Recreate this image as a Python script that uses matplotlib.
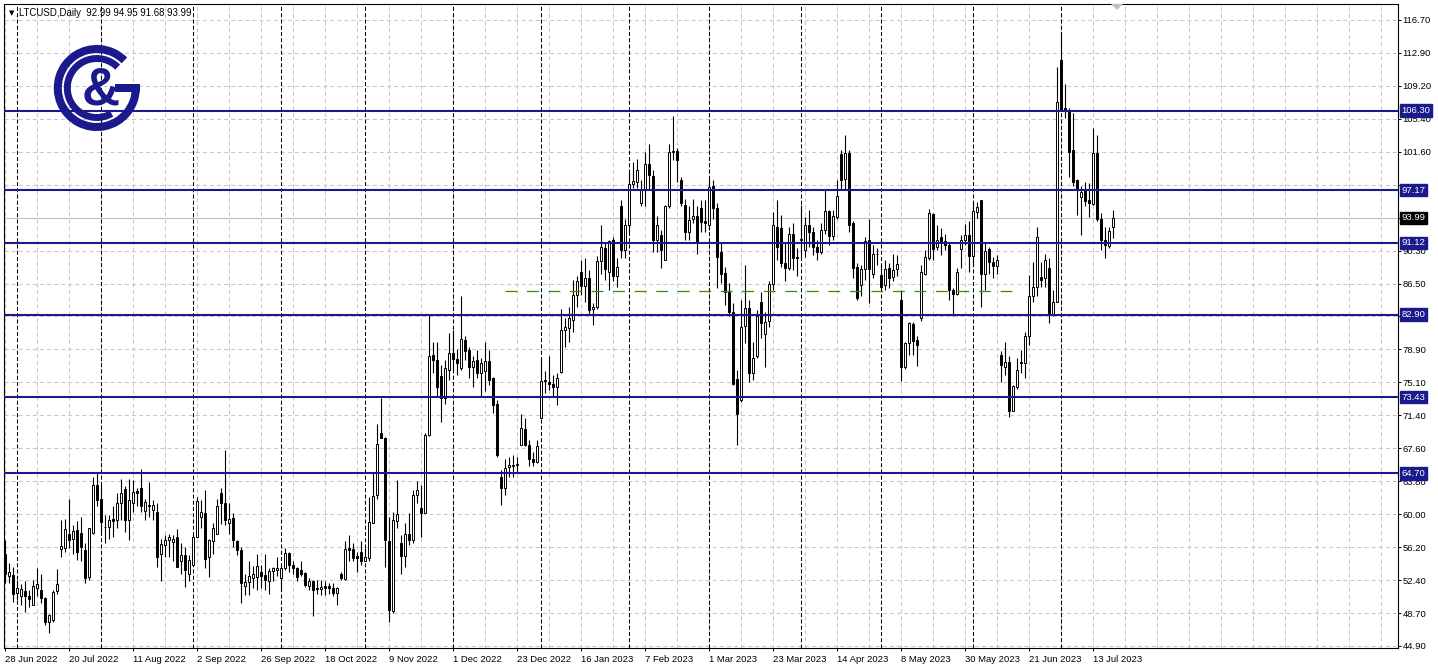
import numpy as np
import pandas as pd
import matplotlib
matplotlib.use('Agg')
import matplotlib.pyplot as plt
import matplotlib.transforms as mtransforms
from matplotlib.patches import Arc, Polygon, Rectangle

plt.rcParams['font.family'] = ['Liberation Sans', 'DejaVu Sans']
plt.rcParams['lines.scale_dashes'] = False

# daily LTCUSD bars (weekdays), first bar on 28 Jun 2022
symbol = 'LTCUSD,Daily'
start_date = '2022-06-28'

opens = [
    55.5, 52.9, 53.0, 51.0, 50.6, 51.2, 50.6, 49.6, 51.6, 51.3,
    50.4, 47.7, 47.9, 51.2, 56.0, 56.1, 57.8, 57.2, 58.2, 57.9,
    55.9, 52.8, 57.9, 63.4, 61.8, 58.6, 58.5, 59.5, 59.3, 61.3,
    62.9, 59.4, 61.3, 62.7, 63.0, 60.4, 61.1, 60.5, 60.3, 55.5,
    56.5, 57.1, 56.8, 57.4, 54.6, 55.3, 53.2, 54.2, 57.4, 59.7,
    60.2, 55.1, 56.9, 57.7, 62.5, 61.3, 59.0, 59.6, 56.9, 55.9,
    51.8, 52.2, 52.7, 52.8, 53.4, 53.0, 52.3, 53.5, 53.6, 52.7,
    53.8, 55.6, 54.2, 53.8, 53.6, 53.3, 51.8, 52.3, 51.6, 51.4,
    51.8, 51.8, 51.6, 51.0, 53.2, 52.6, 56.1, 56.0, 55.2, 55.7,
    54.7, 55.0, 59.0, 62.2, 69.3, 68.7, 56.9, 48.9, 59.2, 56.7,
    55.2, 57.7, 57.1, 62.2, 60.7, 60.2, 69.1, 78.3, 77.7, 75.9,
    73.3, 76.6, 78.5, 77.8, 76.8, 80.0, 78.9, 76.9, 77.7, 76.2,
    76.4, 77.6, 75.6, 72.7, 64.3, 63.0, 65.4, 65.5, 65.6, 68.0,
    69.8, 68.0, 66.4, 66.0, 71.1, 75.3, 75.2, 75.0, 74.6, 76.3,
    81.1, 81.4, 82.3, 85.2, 87.8, 86.2, 87.1, 83.5, 83.8, 89.0,
    90.5, 87.8, 91.5, 87.3, 95.3, 90.3, 93.2, 97.9, 98.1, 95.7,
    97.2, 100.2, 98.8, 91.5, 92.0, 89.2, 95.3, 101.6, 101.7, 98.3,
    95.5, 92.4, 93.9, 94.2, 95.1, 93.6, 93.2, 97.6, 95.1, 90.1,
    87.7, 85.5, 83.2, 75.5, 73.1, 81.6, 83.7, 76.2, 78.1, 84.3,
    80.7, 82.2, 86.4, 93.0, 92.8, 88.8, 88.3, 92.2, 89.5, 91.4,
    90.3, 93.2, 92.4, 90.7, 90.1, 92.6, 94.8, 91.9, 94.1, 101.3,
    98.4, 101.4, 93.4, 88.4, 86.3, 88.1, 91.5, 87.6, 89.8, 87.4,
    86.3, 88.2, 87.2, 88.1, 84.6, 76.9, 79.6, 81.8, 80.0, 82.5,
    87.6, 89.4, 94.4, 90.7, 91.8, 91.3, 90.9, 85.7, 85.3, 90.4,
    91.4, 92.0, 89.6, 94.7, 96.0, 87.6, 90.4, 88.9, 88.5, 78.3,
    76.9, 77.5, 71.9, 74.6, 77.5, 77.3, 80.4, 85.0, 86.1, 87.2,
    87.1, 88.2, 83.0, 84.4, 112.1, 106.6, 106.4, 101.8, 98.3, 96.4,
    97.2, 96.0, 95.6, 101.4, 93.9, 91.5, 90.8, 92.99,
]
highs = [
    57.0, 54.4, 54.0, 52.5, 52.0, 52.3, 51.3, 52.5, 53.9, 53.1,
    50.5, 48.6, 51.3, 53.7, 59.3, 59.5, 61.7, 58.8, 59.2, 59.7,
    56.7, 58.4, 64.3, 64.7, 63.5, 59.9, 59.9, 60.9, 62.4, 64.0,
    63.2, 64.0, 63.9, 63.0, 65.2, 61.7, 63.7, 61.6, 61.3, 57.2,
    57.6, 57.8, 57.6, 58.3, 56.7, 56.3, 55.3, 57.6, 62.0, 61.6,
    62.8, 57.2, 59.0, 61.8, 63.0, 67.4, 61.3, 60.1, 57.1, 56.3,
    53.2, 54.6, 54.1, 55.5, 54.2, 55.5, 53.8, 54.0, 55.1, 54.2,
    56.1, 55.7, 54.6, 54.0, 54.6, 53.4, 52.7, 52.5, 52.5, 52.5,
    52.3, 52.1, 52.1, 51.7, 53.4, 56.9, 57.6, 56.7, 55.7, 56.9,
    56.1, 62.0, 64.7, 70.4, 73.3, 68.9, 59.7, 60.3, 63.9, 57.6,
    59.0, 60.1, 62.8, 63.8, 63.4, 69.3, 83.0, 79.8, 79.8, 77.1,
    77.7, 80.8, 81.1, 79.0, 85.0, 80.4, 79.2, 78.1, 78.9, 77.9,
    79.8, 78.9, 75.8, 73.1, 65.1, 66.4, 66.6, 66.8, 66.6, 71.5,
    71.0, 68.5, 67.2, 68.5, 77.9, 76.4, 78.1, 76.0, 76.2, 83.6,
    82.5, 83.8, 86.9, 87.3, 89.2, 89.4, 88.0, 84.2, 89.6, 93.2,
    91.1, 91.5, 91.8, 89.4, 96.0, 93.9, 99.3, 100.4, 100.7, 98.3,
    101.6, 102.5, 99.5, 94.2, 92.6, 95.5, 102.5, 105.7, 102.0, 98.7,
    96.2, 95.3, 96.2, 95.3, 96.1, 96.0, 98.5, 98.3, 95.7, 91.1,
    88.4, 86.5, 84.2, 76.6, 84.6, 88.6, 84.6, 79.8, 83.4, 85.5,
    83.2, 86.7, 94.7, 96.0, 94.3, 91.1, 93.0, 93.4, 90.5, 95.5,
    94.1, 94.9, 93.0, 91.5, 93.4, 97.2, 94.9, 94.9, 98.3, 101.8,
    103.5, 101.8, 93.6, 88.8, 88.6, 91.8, 93.9, 90.9, 90.5, 88.6,
    89.2, 88.8, 89.9, 89.7, 85.7, 79.8, 82.1, 82.1, 80.4, 88.6,
    90.3, 95.0, 94.5, 93.2, 92.8, 92.2, 91.1, 85.9, 88.2, 92.0,
    93.3, 93.6, 95.8, 95.8, 96.1, 91.1, 90.7, 89.5, 89.7, 78.7,
    79.8, 78.1, 74.8, 77.9, 78.8, 80.9, 87.4, 88.9, 93.0, 88.9,
    89.9, 89.4, 85.7, 111.3, 115.2, 109.4, 106.6, 106.0, 98.4, 97.6,
    98.1, 98.0, 104.3, 103.5, 94.5, 93.0, 93.0, 94.95,
]
lows = [
    52.1, 52.1, 50.0, 50.2, 49.6, 48.8, 49.4, 49.6, 50.6, 49.8,
    47.3, 46.4, 47.7, 50.9, 55.1, 55.7, 56.1, 55.5, 54.8, 54.6,
    52.1, 52.5, 57.8, 60.9, 58.0, 56.7, 57.2, 57.4, 58.4, 59.3,
    58.0, 57.1, 60.3, 61.0, 60.3, 59.3, 59.7, 59.3, 54.0, 52.3,
    55.1, 55.1, 54.7, 54.0, 53.2, 51.7, 52.3, 54.2, 57.4, 58.4,
    53.8, 52.8, 55.5, 57.7, 58.9, 58.8, 57.8, 56.3, 55.3, 49.8,
    50.7, 50.7, 51.5, 51.3, 51.6, 51.3, 50.9, 52.3, 52.9, 51.3,
    53.6, 53.4, 53.2, 52.3, 52.9, 51.7, 51.3, 48.3, 50.9, 50.7,
    50.7, 50.9, 50.6, 49.6, 52.5, 52.5, 54.6, 54.6, 53.4, 54.2,
    54.6, 54.6, 59.0, 61.8, 68.7, 54.0, 47.6, 48.7, 58.4, 53.2,
    54.0, 56.5, 56.7, 61.3, 57.4, 60.1, 69.0, 76.2, 73.5, 70.6,
    72.7, 75.4, 76.6, 76.0, 76.6, 77.7, 75.6, 74.6, 75.6, 73.5,
    74.1, 74.8, 71.6, 66.6, 61.1, 62.2, 64.3, 64.3, 64.7, 67.9,
    67.8, 65.5, 65.5, 65.9, 71.0, 73.9, 74.3, 73.5, 72.5, 76.2,
    79.2, 79.8, 80.9, 83.8, 85.2, 84.4, 83.0, 81.7, 83.6, 87.6,
    86.9, 85.7, 86.7, 86.1, 89.4, 89.4, 92.4, 97.4, 97.4, 95.3,
    95.3, 97.2, 90.1, 90.1, 88.2, 89.2, 95.1, 100.6, 98.1, 95.3,
    91.5, 91.5, 93.4, 89.9, 92.4, 92.4, 92.6, 93.9, 85.9, 86.5,
    84.0, 82.7, 74.8, 67.9, 72.9, 79.6, 75.2, 75.4, 77.9, 80.2,
    76.9, 81.5, 85.7, 89.2, 88.4, 86.7, 88.0, 88.0, 87.3, 89.5,
    89.5, 90.7, 89.7, 89.2, 89.9, 92.2, 90.9, 91.5, 93.9, 97.2,
    97.2, 92.4, 87.1, 84.6, 85.0, 86.9, 84.2, 87.1, 88.6, 85.7,
    85.7, 85.9, 86.7, 87.3, 75.3, 76.7, 78.3, 78.3, 77.0, 82.2,
    87.4, 89.2, 89.2, 90.3, 89.7, 90.3, 84.6, 82.7, 85.1, 88.2,
    90.9, 87.8, 88.6, 94.0, 83.8, 85.7, 87.6, 87.1, 87.6, 75.2,
    76.0, 71.2, 71.8, 74.4, 76.2, 75.6, 79.4, 84.4, 85.0, 86.1,
    86.1, 81.9, 82.7, 84.3, 106.4, 105.5, 98.7, 97.6, 94.3, 92.0,
    95.3, 94.1, 95.5, 93.6, 90.3, 89.4, 90.5, 91.68,
]
closes = [
    53.2, 53.4, 50.9, 51.5, 51.4, 50.6, 50.3, 51.8, 52.0, 50.4,
    47.7, 48.4, 51.1, 52.0, 56.4, 58.3, 57.1, 58.1, 55.7, 56.3,
    52.7, 58.4, 63.4, 61.6, 59.1, 58.5, 59.4, 59.2, 61.3, 62.4,
    59.3, 61.6, 62.6, 62.5, 60.9, 61.4, 60.9, 61.1, 55.1, 56.6,
    57.0, 57.4, 57.2, 54.0, 55.3, 53.6, 54.8, 57.4, 61.5, 60.3,
    54.9, 57.0, 58.4, 60.9, 61.3, 59.3, 59.5, 57.0, 55.9, 52.1,
    52.2, 52.9, 53.2, 54.1, 52.9, 52.5, 53.5, 53.8, 53.8, 53.8,
    55.6, 54.2, 53.8, 52.8, 53.2, 51.9, 52.3, 51.3, 51.4, 51.7,
    51.6, 51.5, 51.0, 51.5, 52.7, 56.0, 55.9, 55.0, 55.0, 54.7,
    55.1, 59.1, 62.1, 68.1, 68.7, 57.1, 49.0, 59.3, 60.0, 55.2,
    57.8, 57.0, 62.2, 62.8, 60.2, 69.1, 78.2, 77.7, 74.6, 73.3,
    76.8, 78.5, 77.8, 77.3, 80.1, 78.7, 76.9, 77.6, 76.2, 77.4,
    77.6, 75.4, 72.5, 66.8, 63.0, 65.3, 65.6, 65.7, 65.8, 69.9,
    68.0, 66.4, 66.0, 67.8, 75.3, 75.4, 75.0, 74.6, 75.6, 81.1,
    81.5, 82.5, 85.2, 86.8, 86.2, 87.1, 83.4, 83.8, 89.0, 90.6,
    88.1, 91.3, 87.3, 88.4, 90.3, 93.2, 97.9, 98.2, 99.5, 97.3,
    100.2, 98.9, 91.5, 93.2, 90.3, 95.4, 101.6, 101.7, 100.6, 95.7,
    92.4, 93.8, 94.2, 91.2, 93.5, 93.4, 97.5, 95.1, 89.5, 87.6,
    85.5, 83.2, 75.0, 71.5, 81.5, 83.7, 76.2, 77.9, 82.7, 81.9,
    82.1, 86.4, 93.2, 90.7, 88.8, 88.3, 92.1, 89.4, 89.4, 91.6,
    93.2, 92.4, 90.6, 90.1, 92.6, 94.8, 91.9, 94.2, 96.5, 98.3,
    101.4, 93.2, 88.2, 84.8, 88.1, 91.3, 88.1, 89.8, 89.9, 86.1,
    88.1, 87.1, 88.0, 88.7, 76.9, 79.6, 81.9, 79.9, 79.4, 87.8,
    89.5, 94.5, 90.4, 91.5, 91.1, 90.9, 85.7, 85.3, 87.8, 91.4,
    92.0, 89.6, 94.8, 95.2, 87.6, 90.2, 88.9, 88.5, 89.2, 77.1,
    77.5, 71.8, 74.7, 76.6, 77.3, 80.4, 85.0, 86.1, 91.8, 86.9,
    89.2, 83.1, 84.3, 107.3, 106.4, 106.3, 101.6, 98.1, 97.2, 97.0,
    95.9, 95.7, 101.4, 93.9, 91.4, 90.9, 92.5, 93.99,
]

# horizontal levels drawn on the chart
level_prices = [106.30, 97.17, 91.12, 82.90, 73.43, 64.70]
bid_price = 93.99
# green dashed support (price, first bar, last bar)
support_price = 85.65
support_bars = (125, 252)

# right scale: every grid step, labels hidden under the price boxes left blank
price_labels = ['44.90', '48.70', '52.40', '56.20', '60.00', '63.80', '67.60',
                '71.40', '75.10', '78.90', '', '86.50', '90.30', '',
                '', '101.60', '105.40', '109.20', '112.90', '116.70']

W, H = 1438, 671
navy = '#1a1a8c'
grid_col = '#c8c8c8'

fig = plt.figure(figsize=(W / 100, H / 100), dpi=100)
ax = fig.add_axes([4 / W, 23 / H, 1394 / W, 644 / H])

n = len(closes)
dates = pd.bdate_range(start_date, periods=n)
x = np.arange(n)
o, hi, lo, c = (np.array(v) for v in (opens, highs, lows, closes))
up = c >= o

ax.set_xlim(-0.25, 348.25)
ax.set_ylim(44.67, 118.52)

# grid
ytick_pos = 44.9 + np.arange(len(price_labels)) * (116.7 - 44.9) / (len(price_labels) - 1)
for yv in ytick_pos:
    ax.axhline(yv, color=grid_col, lw=0.75, ls=(0, (2.9, 2.2)), zorder=0)
for xv in range(0, 349, 8):
    ax.axvline(xv, color=grid_col, lw=0.75, ls=(0, (2.9, 2.2)), zorder=0)

# period separators (first bar of every month)
month_start = [i for i in range(1, n) if dates[i].month != dates[i - 1].month]
for i in month_start:
    ax.axvline(i, color='black', lw=0.75, ls=(0, (2.9, 1.6)), zorder=1)

# bid line
ax.axhline(bid_price, color='#c0c0c0', lw=0.8, zorder=1)

# candles
ax.vlines(x, lo, hi, color='black', lw=0.8, zorder=3)
body_bottom = np.minimum(o, c)
body_h = np.maximum(np.abs(c - o), 0.08)
ax.bar(x, body_h, bottom=body_bottom, width=0.72,
       color=np.where(up, 'white', 'black'), edgecolor='black',
       linewidth=0.7, zorder=4)

# levels
for p in level_prices:
    ax.axhline(p, color=navy, lw=1.5, zorder=5)
ax.hlines(support_price, support_bars[0], support_bars[1], color='#3c8c00',
          lw=0.9, ls=(0, (8.5, 7)), zorder=5)

# axes look
for s in ax.spines.values():
    s.set_color('black')
    s.set_linewidth(0.8)
ax.yaxis.tick_right()
ax.set_yticks(ytick_pos)
ax.set_yticklabels(price_labels)
ax.tick_params(axis='y', length=2.2, width=0.7, pad=1.2, labelsize=6.8,
               direction='out')
ax.set_xticks(x[::16])
ax.set_xticklabels([f'{d.day} {d:%b %Y}' for d in dates[::16]])
ax.tick_params(axis='x', length=2.5, width=0.7, pad=2.5, labelsize=6.8,
               direction='out')
for lbl in ax.get_xticklabels():
    lbl.set_ha('left')

# price boxes on the right scale
ytrans = mtransforms.blended_transform_factory(ax.transAxes, ax.transData)
for p in level_prices:
    ax.text(1.0027, p, f'{p:.2f}', transform=ytrans, ha='left', va='center',
            fontsize=6.8, color='white', clip_on=False, zorder=10,
            bbox=dict(boxstyle='square,pad=0.18', fc=navy, ec=navy))
ax.text(1.0027, bid_price, f'{bid_price:.2f}', transform=ytrans, ha='left',
        va='center', fontsize=6.8, color='white', clip_on=False, zorder=10,
        bbox=dict(boxstyle='square,pad=0.18', fc='black', ec='black'))

# header
fig.text(9 / W, 1 - 13 / H, '\u25bc', fontsize=5, va='center',
         family=['DejaVu Sans'])
fig.text(19 / W, 1 - 13 / H,
         f'{symbol}  {opens[-1]:.2f} {highs[-1]:.2f} {lows[-1]:.2f} {closes[-1]:.2f}',
         fontsize=6.9, va='center')

# chart shift marker
fig.add_artist(Polygon([(1111 / W, 1 - 4 / H), (1123 / W, 1 - 4 / H),
                        (1117 / W, 1 - 10 / H)], closed=True,
                       transform=fig.transFigure, fc='#c0c0c0', ec='none'))

# logo
lax = fig.add_axes([44 / W, 1 - 140 / H, 104 / W, 110 / H])
lax.set_xlim(44, 148)
lax.set_ylim(H - 140, H - 30)
lax.axis('off')
cx, cy = 96.8, H - 88
lax.add_patch(Arc((cx, cy), 78, 78, theta1=45, theta2=360, lw=5.8,
                  color=navy))
lax.add_patch(Rectangle((115, cy - 3.9), 24.8, 7.8, color=navy, lw=0))
lax.add_patch(Arc((cx, cy), 59, 59, theta1=45, theta2=300, lw=5.0,
                  color=navy))
lax.text(100.5, cy - 2.5, '&', fontsize=38, weight='bold', color=navy,
         ha='center', va='center', family=['Liberation Sans'])

fig.savefig('out.png', dpi=100, facecolor='white')
